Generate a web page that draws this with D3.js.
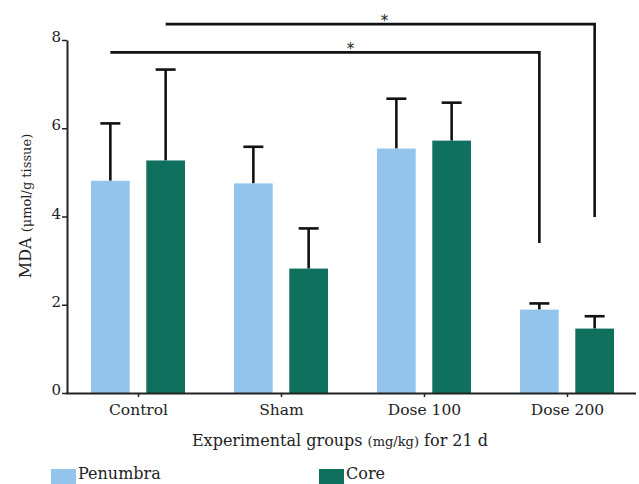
<!DOCTYPE html>
<html><head><meta charset="utf-8">
<script src="https://cdn.jsdelivr.net/npm/d3@7"></script>
<style>body{margin:0;background:#fff}svg{display:block}</style>
</head><body>
<svg id="c" width="639" height="484"></svg>
<script>
const categories = ["Control", "Sham", "Dose 100", "Dose 200"];
const seriesNames = ["Penumbra", "Core"];
const penumbraMean = [4.81, 4.75, 5.54, 1.89];
const penumbraUpper = [6.11, 5.58, 6.67, 2.03];
const coreMean = [5.27, 2.82, 5.72, 1.46];
const coreUpper = [7.33, 3.73, 6.58, 1.74];
const yTicks = [0, 2, 4, 6, 8];
// significance brackets: [fromCategory, fromSeries, toCategory, toSeries, barY, dropY]
const brackets = [
  ["Control", "Penumbra", "Dose 200", "Penumbra", 7.72, 3.40],
  ["Control", "Core", "Dose 200", "Core", 8.36, 3.99]
];
const starFrac = [0.56, 0.51];
const colors = {Penumbra: "#93c4ec", Core: "#0f705d"};

const font = "'DejaVu Serif','Liberation Serif',serif";
const svg = d3.select("#c");
const y = d3.scaleLinear().domain([0, 8]).range([393, 40]);
const x0 = d3.scaleBand().domain(categories).range([67, 639]);
const x1 = d3.scaleBand().domain(seriesNames).range([24, 118]).paddingInner(0.3);

const data = categories.map((c, i) => ({
  cat: c,
  vals: [
    {s: "Penumbra", v: penumbraMean[i], u: penumbraUpper[i]},
    {s: "Core", v: coreMean[i], u: coreUpper[i]}
  ]
}));

const g = svg.append("g");
const grp = g.selectAll("g.grp").data(data).join("g")
  .attr("transform", d => `translate(${x0(d.cat)},0)`);
grp.selectAll("line.err").data(d => d.vals).join("line")
  .attr("x1", d => x1(d.s) + x1.bandwidth() / 2)
  .attr("x2", d => x1(d.s) + x1.bandwidth() / 2)
  .attr("y1", d => y(d.v)).attr("y2", d => y(d.u))
  .attr("stroke", "#111").attr("stroke-width", 2.6);
grp.selectAll("line.cap").data(d => d.vals).join("line")
  .attr("x1", d => x1(d.s) + x1.bandwidth() / 2 - 10)
  .attr("x2", d => x1(d.s) + x1.bandwidth() / 2 + 10)
  .attr("y1", d => y(d.u)).attr("y2", d => y(d.u))
  .attr("stroke", "#111").attr("stroke-width", 2.6);
grp.selectAll("rect").data(d => d.vals).join("rect")
  .attr("x", d => x1(d.s)).attr("width", x1.bandwidth())
  .attr("y", d => y(d.v)).attr("height", d => y(0) - y(d.v))
  .attr("fill", d => colors[d.s]);

// axes
const yAxis = svg.append("g").attr("transform", "translate(67,0)")
  .call(d3.axisLeft(y).tickValues(yTicks).tickFormat(d3.format("d")).tickSize(5).tickSizeOuter(0).tickPadding(1));
yAxis.select(".domain").attr("stroke", "#222").attr("stroke-width", 2);
yAxis.selectAll(".tick line").attr("stroke", "#222").attr("stroke-width", 1.5);
yAxis.selectAll("text").attr("font-family", font).attr("font-size", 15).attr("fill", "#222").attr("dy", "0.1em");

const xAxis = svg.append("g").attr("transform", "translate(0,393)")
  .call(d3.axisBottom(x0).tickSize(4).tickSizeOuter(0).tickPadding(7));
xAxis.select(".domain").attr("stroke", "#222").attr("stroke-width", 2).attr("d", "M66,0.5H636");
xAxis.selectAll(".tick line").attr("stroke", "#222").attr("stroke-width", 1.5);
xAxis.selectAll("text").attr("font-family", font).attr("font-size", 15.5).attr("fill", "#222");

// brackets
brackets.forEach((b, i) => {
  const xa = x0(b[0]) + x1(b[1]) + x1.bandwidth() / 2;
  const xb = x0(b[2]) + x1(b[3]) + x1.bandwidth() / 2;
  svg.append("path")
    .attr("d", `M${xa},${y(b[4])}H${xb}V${y(b[5])}`)
    .attr("fill", "none").attr("stroke", "#111").attr("stroke-width", 2.6);
  svg.append("text").attr("x", xa + (xb - xa) * starFrac[i]).attr("y", y(b[4]) + 2)
    .attr("text-anchor", "middle").attr("font-family", "'DejaVu Sans',sans-serif")
    .attr("font-size", 15).attr("fill", "#222").text("*");
});

// x title
const xt = svg.append("text").attr("x", 340).attr("y", 446).attr("text-anchor", "middle")
  .attr("font-family", font).attr("font-size", 16).attr("fill", "#222");
xt.append("tspan").text("Experimental groups ");
xt.append("tspan").attr("font-size", 13).text("(mg/kg)");
xt.append("tspan").text(" for 21 d");

// y title
const yt = svg.append("text").attr("transform", "translate(31,206) rotate(-90)").attr("text-anchor", "middle")
  .attr("font-family", font).attr("font-size", 16).attr("fill", "#222");
yt.append("tspan").text("MDA ");
yt.append("tspan").attr("font-size", 13).text("(μmol/g tissue)");

// legend
const leg = svg.append("g").selectAll("g").data(seriesNames).join("g")
  .attr("transform", (d, i) => `translate(${i === 0 ? 51 : 319},0)`);
leg.append("rect").attr("x", 0).attr("y", 469).attr("width", 25).attr("height", 16)
  .attr("fill", d => colors[d]);
leg.append("text").attr("x", 27).attr("y", 479).attr("font-family", font).attr("font-size", 16)
  .attr("fill", "#222").text(d => d);
</script>
</body></html>
